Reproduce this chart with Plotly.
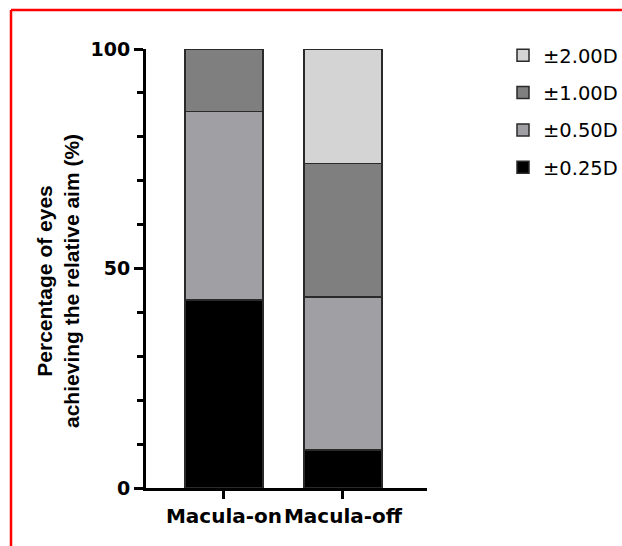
import plotly.graph_objects as go

categories = ["Macula-on", "Macula-off"]
series_names = ["±0.25D", "±0.50D", "±1.00D", "±2.00D"]
vals_025 = [42.86, 8.70]
vals_050 = [42.86, 34.78]
vals_100 = [14.28, 30.43]
vals_200 = [0.0, 26.09]
series_values = [vals_025, vals_050, vals_100, vals_200]
colors = ["#000000", "#a0a0a4", "#7f7f7f", "#d4d4d4"]
y_tick_vals = [0, 50, 100]
y_title_lines = ["Percentage of eyes", "achieving the relative aim (%)"]

W, H = 622, 546
# plot area in page pixels
L, R, T, B = 146, 427, 49, 488

FONT = "Arial, Liberation Sans, Helvetica, sans-serif"
FONT_W = "DejaVu Sans, Arial, sans-serif"

fig = go.Figure()
n = len(series_names)
for i, (name, vals, col) in enumerate(zip(series_names, series_values, colors)):
    fig.add_trace(go.Bar(
        x=categories, y=vals, name=name,
        marker=dict(color=col, line=dict(color="#2a2a2a", width=1.5)),
        width=0.655, legendgroup=name, legendrank=n - i,
    ))

def px_x(px):  # page pixel -> paper
    return (px - L) / (R - L)

def px_y(py):
    return (B - py) / (B - T)

fig.update_layout(
    width=W, height=H,
    margin=dict(l=L, r=W - R, t=T, b=H - B, pad=0, autoexpand=False),
    barmode="stack",
    plot_bgcolor="white", paper_bgcolor="white",
    font=dict(family=FONT, color="black"),
    showlegend=True,
    legend=dict(
        x=px_x(503), y=px_y(36), xanchor="left", yanchor="top",
        traceorder="grouped", font=dict(size=19.5, family=FONT_W, color="black"),
        tracegroupgap=9, bgcolor="rgba(0,0,0,0)",
    ),
    xaxis=dict(
        range=[-0.655, 1.706], showline=True, linecolor="black", linewidth=3,
        ticks="outside", ticklen=8, tickwidth=3, tickcolor="black", tickangle=0,
        tickfont=dict(size=20, family=FONT_W, color="black", weight="bold"),
        showgrid=False, zeroline=False, fixedrange=True, automargin=False,
    ),
    yaxis=dict(
        range=[0, 100], showline=True, linecolor="black", linewidth=3,
        tickvals=y_tick_vals, ticks="outside", ticklen=9, tickwidth=3, tickcolor="black",
        tickfont=dict(size=19, family=FONT_W, color="black", weight="bold"),
        minor=dict(dtick=10, ticks="outside", ticklen=6, tickwidth=2.5, tickcolor="black", showgrid=False),
        showgrid=False, zeroline=False, fixedrange=True, automargin=False,
    ),
    annotations=[dict(
        text="<br>".join(y_title_lines), xref="paper", yref="paper",
        x=px_x(58), y=px_y(281), xanchor="center", yanchor="middle",
        textangle=-90, showarrow=False,
        font=dict(size=21, family=FONT, color="black", weight="bold"),
    )],
    shapes=[
        dict(type="line", xref="paper", yref="paper",
             x0=px_x(11), x1=px_x(623),
             y0=px_y(10), y1=px_y(10),
             line=dict(color="#ff0000", width=2.5)),
        dict(type="line", xref="paper", yref="paper",
             x0=px_x(11), x1=px_x(11),
             y0=px_y(10), y1=px_y(548),
             line=dict(color="#ff0000", width=2.5)),
    ],
)

fig.write_html(
    "out.html",
    config={"displayModeBar": False},
    post_script="document.body.style.margin='0';document.body.style.overflow='hidden';",
)
